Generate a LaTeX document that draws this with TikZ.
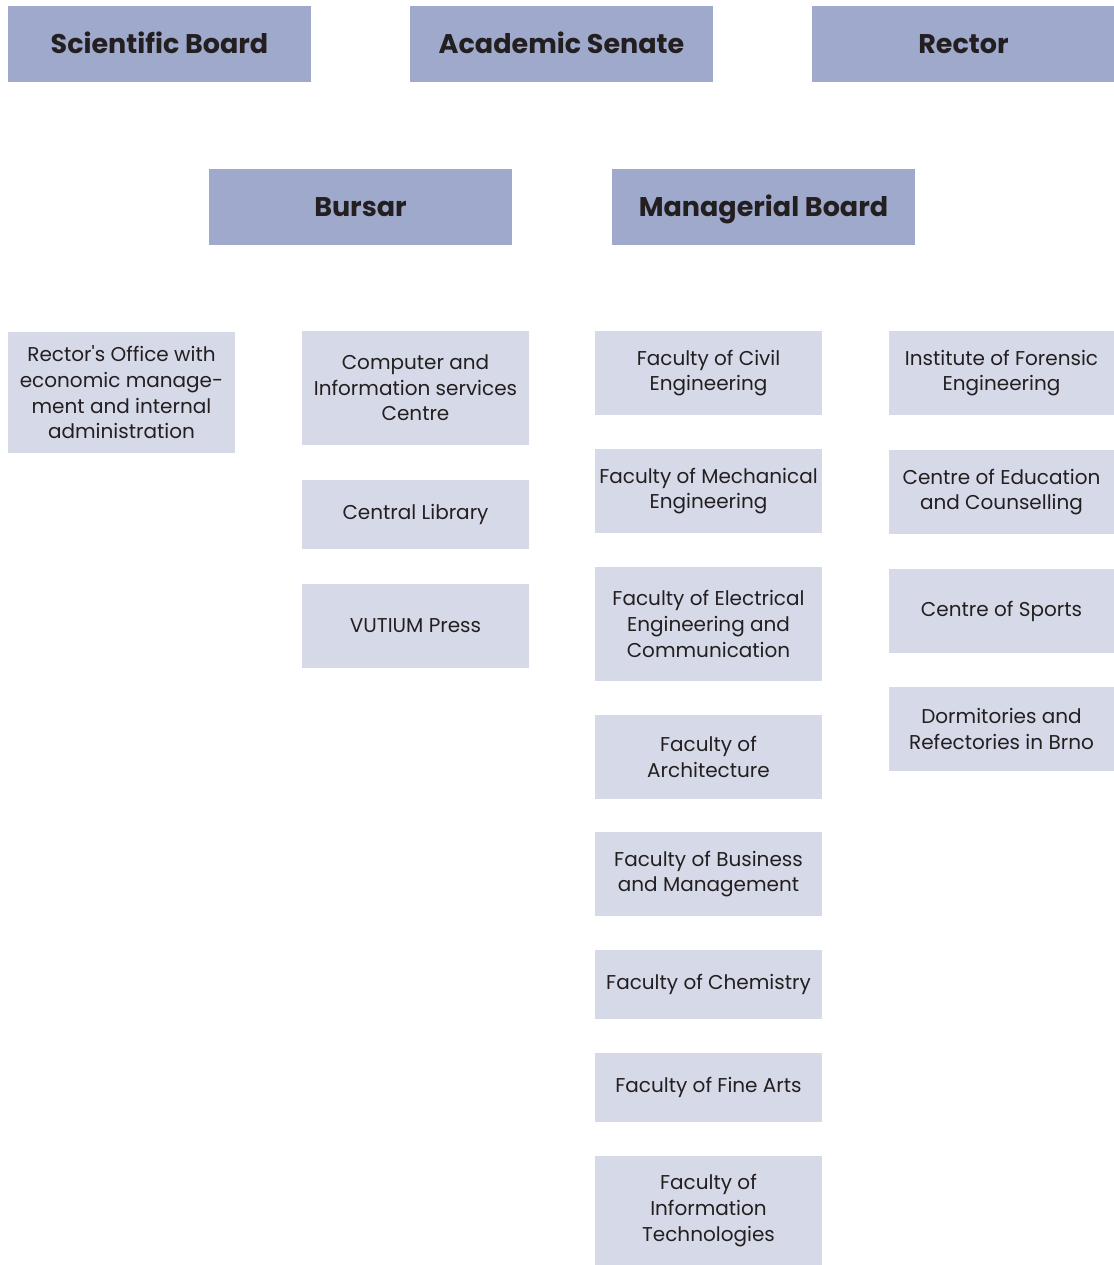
\documentclass[tikz,border=0pt]{standalone}
\usepackage{fontspec}
\setmainfont{Poppins}[Ligatures=TeXOff]
\usepackage{tikz}
\definecolor{headblue}{HTML}{9EA9CB}
\definecolor{unitblue}{HTML}{D6DAE8}
\definecolor{inkgrey}{HTML}{231F20}
\tikzset{
  headbox/.style={fill=headblue, text=inkgrey, inner sep=0pt, outer sep=0pt,
    minimum width=151.5pt, minimum height=38pt, text height=9.5pt, text depth=0pt,
    font=\fontsize{13.5}{16}\selectfont\bfseries},
  unitbox/.style={fill=unitblue, text=inkgrey, inner sep=0pt, outer sep=0pt, align=center,
    minimum width=113.5pt, minimum height=42pt, font=\fontsize{10}{12.8}\selectfont},
}

\begin{document}
\begin{tikzpicture}[x=0.5pt,y=-0.5pt]
		\useasboundingbox (0,0) rectangle (1114,1265);

		% governing bodies
		\node[headbox] (sciboard) at (159.5,44) {Scientific Board};
		\node[headbox] (senate) at (561.5,44) {Academic Senate};
		\node[headbox] (rector) at (963.5,44) {Rector};
		\node[headbox] (bursar) at (360.5,207) {Bursar};
		\node[headbox] (manboard) at (763.5,207) {Managerial Board};

		% rector's office and services
		\node[unitbox,minimum height=60.5pt] (office) at (121.5,392.5) {Rector's Office with\\economic manage-\\ment and internal\\administration};
		\node[unitbox,minimum height=57pt] (cis) at (415.5,388) {Computer and\\Information services\\Centre};
		\node[unitbox,minimum height=34.5pt] (library) at (415.5,514.5) {Central Library};
		\node[unitbox] (press) at (415.5,626) {VUTIUM Press};

		% faculties
		\node[unitbox] (fce) at (708.5,373) {Faculty of Civil\\Engineering};
		\node[unitbox] (fme) at (708.5,491) {Faculty of Mechanical\\Engineering};
		\node[unitbox,minimum height=57pt] (feec) at (708.5,624) {Faculty of Electrical\\Engineering and\\Communication};
		\node[unitbox] (fa) at (708.5,757) {Faculty of\\Architecture};
		\node[unitbox] (fbm) at (708.5,874) {Faculty of Business\\and Management};
		\node[unitbox,minimum height=34.5pt] (fch) at (708.5,984.5) {Faculty of Chemistry};
		\node[unitbox,minimum height=34.5pt] (ffa) at (708.5,1087.5) {Faculty of Fine Arts};
		\node[unitbox,minimum height=54.5pt] (fit) at (708.5,1210.5) {Faculty of\\Information\\Technologies};

		% other institutes
		\node[unitbox,minimum width=112.5pt] (ife) at (1001.5,373) {Institute of Forensic\\Engineering};
		\node[unitbox,minimum width=112.5pt] (ceic) at (1001.5,492) {Centre of Education\\and Counselling};
		\node[unitbox,minimum width=112.5pt] (sports) at (1001.5,611) {Centre of Sports};
		\node[unitbox,minimum width=112.5pt] (dorms) at (1001.5,729) {Dormitories and\\Refectories in Brno};

	\end{tikzpicture}
\end{document}
